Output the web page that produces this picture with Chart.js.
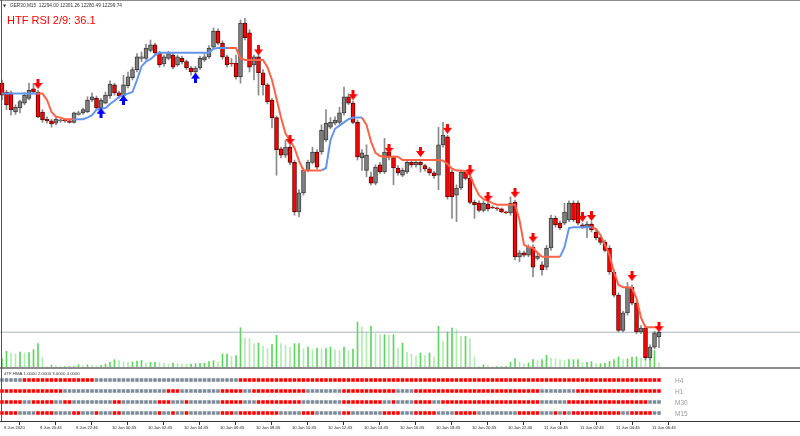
<!DOCTYPE html>
<html>
<head>
<meta charset="utf-8">
<script src="https://cdn.jsdelivr.net/npm/chart.js@4.4.1/dist/chart.umd.min.js"></script>
<style>
  html, body { margin: 0; padding: 0; background: #fff; }
  #cadre { position: relative; width: 800px; height: 436px; }
</style>
</head>
<body>
<div id="cadre"><canvas id="monGraphique"></canvas></div>
<script>
// GER30 M15, 9 Jun 2020 18:45 -> 11 Jun 2020 07:15 (147 bougies)
const opens = [
  12611, 12600, 12599, 12575, 12580, 12586, 12592, 12604, 12600, 12575,
  12566, 12564, 12561, 12564, 12565, 12564, 12562, 12572, 12574, 12575,
  12590, 12592, 12580, 12586, 12595, 12609, 12599, 12595, 12608, 12618,
  12628, 12642, 12642, 12652, 12659, 12649, 12635, 12642, 12646, 12634,
  12642, 12638, 12630, 12625, 12630, 12640, 12644, 12656, 12676, 12661,
  12644, 12636, 12636, 12619, 12686, 12674, 12634, 12644, 12624, 12609,
  12590, 12568, 12529, 12521, 12531, 12512, 12450, 12474, 12502, 12512,
  12525, 12525, 12540, 12556, 12561, 12562, 12574, 12594, 12586, 12562,
  12518, 12502, 12494, 12486, 12509, 12500, 12525, 12518, 12505, 12496,
  12500, 12512, 12509, 12512, 12508, 12504, 12499, 12496, 12534, 12544,
  12500, 12471, 12480, 12500, 12492, 12462, 12461, 12452, 12460, 12456,
  12455, 12454, 12450, 12449, 12462, 12394, 12399, 12396, 12406, 12392,
  12384, 12381, 12405, 12442, 12436, 12436, 12440, 12461, 12461, 12434,
  12431, 12435, 12425, 12418, 12412, 12405, 12375, 12346, 12302, 12324,
  12356, 12336, 12300, 12305, 12268, 12281, 12294.00
];
const highs = [
  12615, 12602, 12601, 12584, 12590, 12599, 12611, 12611, 12602, 12578,
  12569, 12566, 12568, 12566, 12566, 12565, 12575, 12576, 12580, 12594,
  12599, 12595, 12592, 12600, 12614, 12611, 12601, 12621, 12625, 12631,
  12648, 12650, 12660, 12665, 12661, 12651, 12646, 12651, 12649, 12646,
  12645, 12640, 12632, 12632, 12645, 12648, 12658, 12680, 12679, 12664,
  12646, 12642, 12646, 12690, 12692, 12678, 12646, 12646, 12628, 12611,
  12592, 12570, 12531, 12540, 12534, 12515, 12478, 12505, 12515, 12531,
  12528, 12559, 12578, 12568, 12569, 12581, 12606, 12598, 12589, 12565,
  12528, 12534, 12500, 12509, 12512, 12542, 12528, 12520, 12508, 12505,
  12515, 12515, 12515, 12515, 12510, 12506, 12501, 12556, 12562, 12546,
  12502, 12484, 12502, 12502, 12495, 12465, 12464, 12464, 12462, 12458,
  12456, 12455, 12451, 12469, 12465, 12402, 12401, 12409, 12409, 12398,
  12388, 12408, 12446, 12445, 12439, 12461, 12464, 12464, 12464, 12436,
  12438, 12438, 12428, 12420, 12415, 12408, 12378, 12349, 12326, 12362,
  12359, 12339, 12308, 12308, 12284, 12301, 12301.26
];
const lows = [
  12590, 12578, 12571, 12572, 12574, 12584, 12590, 12598, 12568, 12562,
  12561, 12556, 12559, 12562, 12562, 12561, 12561, 12571, 12572, 12574,
  12588, 12578, 12578, 12585, 12592, 12596, 12592, 12592, 12605, 12615,
  12625, 12638, 12640, 12650, 12646, 12631, 12632, 12640, 12629, 12632,
  12635, 12628, 12621, 12622, 12628, 12638, 12642, 12654, 12659, 12641,
  12631, 12632, 12616, 12611, 12665, 12625, 12615, 12596, 12596, 12585,
  12555, 12496, 12518, 12518, 12509, 12446, 12444, 12471, 12500, 12510,
  12504, 12522, 12538, 12554, 12559, 12560, 12571, 12584, 12560, 12515,
  12502, 12494, 12484, 12484, 12498, 12498, 12515, 12484, 12496, 12494,
  12498, 12506, 12506, 12500, 12501, 12496, 12492, 12478, 12531, 12466,
  12442, 12438, 12478, 12490, 12460, 12442, 12450, 12450, 12451, 12454,
  12452, 12449, 12448, 12446, 12390, 12388, 12394, 12394, 12369, 12390,
  12371, 12378, 12402, 12431, 12428, 12434, 12438, 12438, 12434, 12429,
  12418, 12425, 12415, 12409, 12400, 12372, 12344, 12300, 12300, 12321,
  12334, 12298, 12298, 12265, 12265, 12279, 12280.49
];
const closes = [
  12596, 12584, 12578, 12581, 12588, 12596, 12602, 12600, 12569, 12565,
  12564, 12560, 12566, 12565, 12564, 12562, 12574, 12574, 12578, 12590,
  12594, 12580, 12590, 12596, 12610, 12599, 12595, 12609, 12619, 12628,
  12644, 12644, 12655, 12659, 12649, 12634, 12644, 12648, 12631, 12644,
  12638, 12630, 12625, 12630, 12642, 12644, 12655, 12676, 12661, 12644,
  12634, 12635, 12619, 12686, 12668, 12631, 12644, 12624, 12609, 12588,
  12568, 12528, 12521, 12531, 12512, 12450, 12474, 12502, 12512, 12525,
  12506, 12552, 12561, 12562, 12565, 12574, 12594, 12586, 12562, 12519,
  12524, 12521, 12486, 12506, 12500, 12525, 12519, 12505, 12499, 12502,
  12512, 12509, 12512, 12509, 12504, 12499, 12495, 12534, 12546, 12469,
  12469, 12480, 12500, 12492, 12462, 12459, 12452, 12461, 12454, 12455,
  12454, 12450, 12449, 12461, 12394, 12399, 12396, 12406, 12381, 12395,
  12378, 12405, 12442, 12434, 12430, 12450, 12461, 12440, 12436, 12431,
  12435, 12428, 12418, 12412, 12402, 12375, 12346, 12302, 12324, 12356,
  12336, 12300, 12305, 12268, 12281, 12299, 12299.74
];
const volumes = [
  415, 785, 700, 665, 750, 700, 715, 865, 1165, 485,
  25, 100, 65, 25, 25, 25, 25, 115, 65, 115,
  85, 65, 85, 150, 235, 365, 315, 265, 235, 250,
  300, 335, 200, 235, 235, 215, 200, 135, 200, 185,
  150, 135, 150, 165, 185, 185, 265, 315, 235, 650,
  650, 535, 565, 1965, 1450, 1415, 1165, 1200, 1035, 915,
  1115, 1585, 1165, 1085, 1000, 1165, 1165, 915, 1000, 865,
  950, 915, 915, 1000, 865, 815, 1000, 815, 900, 2250,
  2000, 1735, 2035, 1665, 1615, 1615, 1585, 1615, 950, 1200,
  750, 650, 535, 700, 565, 700, 500, 2035, 1285, 1750,
  1950, 1865, 1535, 1535, 1415, 500, 35, 115, 65, 15,
  15, 15, 15, 235, 415, 250, 150, 200, 365, 325,
  365, 585, 450, 400, 365, 335, 365, 365, 365, 235,
  235, 265, 165, 165, 200, 285, 365, 500, 365, 400,
  500, 500, 450, 400, 400, 835, 200
];
// ligne HTF (niveau par bougie) et sa tendance en plages [sens, nb bougies]
const htf = [
  12598, 12598, 12598, 12598, 12598, 12598, 12598, 12598, 12598, 12598,
  12590, 12575, 12569, 12568, 12566, 12566, 12566, 12566, 12566, 12568,
  12571, 12578, 12579, 12580, 12585, 12589, 12594, 12596, 12598, 12600,
  12615, 12632, 12638, 12641, 12646, 12649, 12649, 12649, 12649, 12649,
  12649, 12649, 12649, 12649, 12649, 12649, 12649, 12654, 12655, 12655,
  12655, 12655, 12655, 12642, 12640, 12640, 12640, 12640, 12640, 12631,
  12615, 12592, 12568, 12548, 12539, 12530, 12514, 12502, 12502, 12502,
  12502, 12502, 12505, 12540, 12554, 12558, 12562, 12566, 12568, 12568,
  12568, 12559, 12538, 12524, 12520, 12519, 12519, 12519, 12519, 12515,
  12515, 12515, 12515, 12515, 12515, 12515, 12515, 12515, 12514, 12510,
  12504, 12502, 12502, 12501, 12496, 12482, 12471, 12466, 12464, 12461,
  12459, 12459, 12459, 12459, 12459, 12440, 12409, 12406, 12405, 12399,
  12394, 12394, 12394, 12394, 12394, 12406, 12430, 12431, 12431, 12431,
  12431, 12431, 12429, 12421, 12409, 12396, 12375, 12359, 12356, 12356,
  12355, 12342, 12318, 12306, 12306, 12306, 12306
];
const htfTrend = [[1, 9], [-1, 8], [1, 34], [-1, 21], [1, 9], [-1, 44], [1, 7], [-1, 15]];

// fleches (index de bougie, prix)
const flechesBas = [8, 57, 64, 78, 86, 93, 99, 104, 108, 114, 118, 129, 131, 140, 146];
const flechesBasPrix = [12610, 12652, 12540, 12596, 12529, 12525, 12554, 12502, 12469, 12474, 12418, 12444, 12445, 12370, 12306];
const flechesHaut = [22, 27, 43];
const flechesHautPrix = [12574, 12590, 12618];

const bid = 12299.74;

// 4TF HMA : plages [etat, nb bougies], 1 = rouge, 0 = gris
const tfNoms = ['H4', 'H1', 'M30', 'M15'];
const h4 = [[0, 5], [1, 16], [0, 32], [1, 94]];
const h1 = [[1, 14], [0, 23], [1, 3], [0, 9], [1, 5], [0, 2], [1, 12], [0, 8], [1, 12], [0, 4], [1, 28], [0, 8], [1, 19]];
const m30 = [[1, 5], [0, 2], [1, 5], [0, 2], [1, 2], [0, 9], [1, 2], [0, 8], [1, 3], [0, 3], [1, 1], [0, 7], [1, 5], [0, 3],
  [1, 10], [0, 9], [1, 9], [0, 2], [1, 1], [0, 4], [1, 4], [0, 2], [1, 22], [0, 6], [1, 18], [0, 3]];
const m15 = [[1, 4], [0, 4], [1, 4], [0, 4], [1, 2], [0, 3], [1, 1], [0, 3], [1, 2], [0, 8], [1, 1], [0, 2], [1, 1], [0, 2],
  [1, 1], [0, 7], [1, 3], [0, 1], [1, 9], [0, 5], [1, 3], [0, 6], [1, 2], [0, 7], [1, 4], [0, 3], [1, 5], [0, 4], [1, 5],
  [0, 9], [1, 5], [0, 3], [1, 1], [0, 1], [1, 1], [0, 1], [1, 11], [0, 2], [1, 5], [0, 2]];

const tickBars = [0, 8, 16, 24, 32, 40, 48, 56, 64, 72, 80, 88, 96, 104, 112, 120, 128, 136, 144];
const tickLabels = ['9 Jun 2020', '9 Jun 20:45', '9 Jun 22:46', '10 Jun 00:45', '10 Jun 02:45', '10 Jun 04:45',
  '10 Jun 06:45', '10 Jun 08:45', '10 Jun 10:45', '10 Jun 12:45', '10 Jun 14:45', '10 Jun 16:45', '10 Jun 18:45',
  '10 Jun 20:45', '10 Jun 22:46', '11 Jun 00:45', '11 Jun 02:45', '11 Jun 04:45', '11 Jun 06:45'];

function deplier(plages) {
  const out = [];
  plages.forEach(([v, n]) => { for (let k = 0; k < n; k++) out.push(v); });
  return out;
}

function fleche(couleur, haut) {
  const c = document.createElement('canvas');
  c.width = 9; c.height = 10;
  const g = c.getContext('2d');
  if (haut) { g.translate(0, 10); g.scale(1, -1); }
  g.fillStyle = couleur;
  g.beginPath();
  g.moveTo(3, 0); g.lineTo(6, 0); g.lineTo(6, 4); g.lineTo(9, 4); g.lineTo(4.5, 10);
  g.lineTo(0, 4); g.lineTo(3, 4);
  g.closePath();
  g.fill();
  return c;
}

const tendance = deplier(htfTrend);
const idx = opens.map((o, i) => i);
const hausse = i => closes[i] >= opens[i];

const datasets = [];

// bougies : meches puis corps (barres flottantes)
datasets.push({
  type: 'bar', order: 3, grouped: false, yAxisID: 'y',
  data: idx.map(i => ({ x: i, y: [lows[i], highs[i]] })),
  backgroundColor: '#8a8a8a', barThickness: 1, minBarLength: 1
});
datasets.push({
  type: 'bar', order: 2, grouped: false, yAxisID: 'y',
  data: idx.map(i => ({ x: i, y: [opens[i], closes[i]] })),
  backgroundColor: idx.map(i => hausse(i) ? '#808080' : '#ff0000'),
  borderColor: idx.map(i => hausse(i) ? '#3c3c3c' : '#5a0000'),
  borderWidth: 1, borderSkipped: false, barThickness: 4, minBarLength: 1
});

// volumes
datasets.push({
  type: 'bar', order: 5, grouped: false, yAxisID: 'yv',
  data: idx.map(i => ({ x: i, y: volumes[i] })),
  backgroundColor: idx.map(i => (i > 0 && volumes[i] < volumes[i - 1]) ? '#b4eab4' : '#5cd65c'),
  barThickness: 1
});

// ligne du bid
datasets.push({
  type: 'line', order: 4, yAxisID: 'y',
  data: [{ x: -1, y: bid }, { x: 178, y: bid }],
  borderColor: '#a9b4bf', borderWidth: 1, pointRadius: 0
});

// ligne HTF bleue / rouge
datasets.push({
  type: 'line', order: 1, yAxisID: 'y',
  data: idx.map(i => ({ x: i, y: htf[i] })),
  borderWidth: 2, pointRadius: 0, tension: 0,
  segment: { borderColor: ctx => tendance[ctx.p1DataIndex] > 0 ? '#6495ed' : '#ff6347' }
});

// fleches
datasets.push({
  type: 'scatter', order: 0, yAxisID: 'y',
  data: flechesBas.map((b, k) => ({ x: b, y: flechesBasPrix[k] })),
  pointStyle: fleche('#ff0000', false)
});
datasets.push({
  type: 'scatter', order: 0, yAxisID: 'y',
  data: flechesHaut.map((b, k) => ({ x: b, y: flechesHautPrix[k] })),
  pointStyle: fleche('#0000ff', true)
});

// carres 4TF HMA
[h4, h1, m30, m15].forEach((plages, r) => {
  const etats = deplier(plages);
  datasets.push({
    type: 'scatter', order: 0, yAxisID: 'yi',
    data: etats.map((e, i) => ({ x: i, y: 4 - r })),
    pointStyle: 'rect', pointRadius: 2.5, pointBorderWidth: 0,
    pointBackgroundColor: etats.map(e => e ? '#ff0000' : '#7d8b99')
  });
});

// textes et cadre MT4
const decor = {
  id: 'decor',
  afterDraw(chart) {
    const ctx = chart.ctx;
    ctx.save();
    ctx.fillStyle = '#8c8c8c';
    ctx.fillRect(0, 0, 800, 1);
    ctx.fillRect(0, 367, 800, 2);
    ctx.fillStyle = '#555';
    ctx.fillRect(1, 0, 1, 421);

    ctx.fillStyle = '#333';
    ctx.font = '4px "DejaVu Sans"';
    ctx.fillText('\u25BC', 3, 7.3);
    ctx.font = '4.75px "Liberation Sans"';
    ctx.fillText('GER30,M15  12294.00 12301.26 12280.49 12299.74', 10, 7.3);

    ctx.fillStyle = '#ff0000';
    ctx.font = '11px "Liberation Sans"';
    ctx.fillText('HTF RSI 2/9: 36.1', 7, 24);

    ctx.fillStyle = '#333';
    ctx.font = '4.3px "Liberation Sans"';
    ctx.fillText('4TF HMA 1.0000 2.0000 3.0000 4.0000', 4, 375);

    ctx.fillStyle = '#9a9a9a';
    ctx.font = '6.5px "Liberation Sans"';
    ctx.textBaseline = 'middle';
    tfNoms.forEach((n, r) => ctx.fillText(n, 675, 381 + r * 11));
    ctx.restore();
  }
};

const ctx = document.getElementById('monGraphique').getContext('2d');
new Chart(ctx, {
  type: 'bar',
  data: { datasets: datasets },
  plugins: [decor],
  options: {
    responsive: true,
    maintainAspectRatio: false,
    animation: false,
    events: [],
    layout: { padding: 0, autoPadding: false },
    plugins: { legend: { display: false }, tooltip: { enabled: false } },
    scales: {
      x: {
        type: 'linear', offset: false,
        min: -2 / 4.5, max: 798 / 4.5,
        afterBuildTicks: scale => { scale.ticks = tickBars.map(v => ({ value: v })); },
        afterFit: scale => { scale.height = 15; scale.paddingLeft = 0; scale.paddingRight = 0; },
        ticks: {
          autoSkip: false, maxRotation: 0, align: 'start', labelOffset: 2, padding: 0,
          color: '#222',
          font: { family: 'Liberation Sans', size: 4.2 },
          callback: v => tickLabels[tickBars.indexOf(v)]
        },
        grid: { drawOnChartArea: false, drawTicks: true, tickLength: 4, color: '#333' },
        border: { display: true, color: '#333' }
      },
      y: { display: false, min: 12188.75, max: 12715 },
      yv: { display: false, min: -2700, max: 18350 },
      yi: { display: false, min: 3 / 11, max: 424 / 11 }
    }
  }
});
</script>
</body>
</html>
